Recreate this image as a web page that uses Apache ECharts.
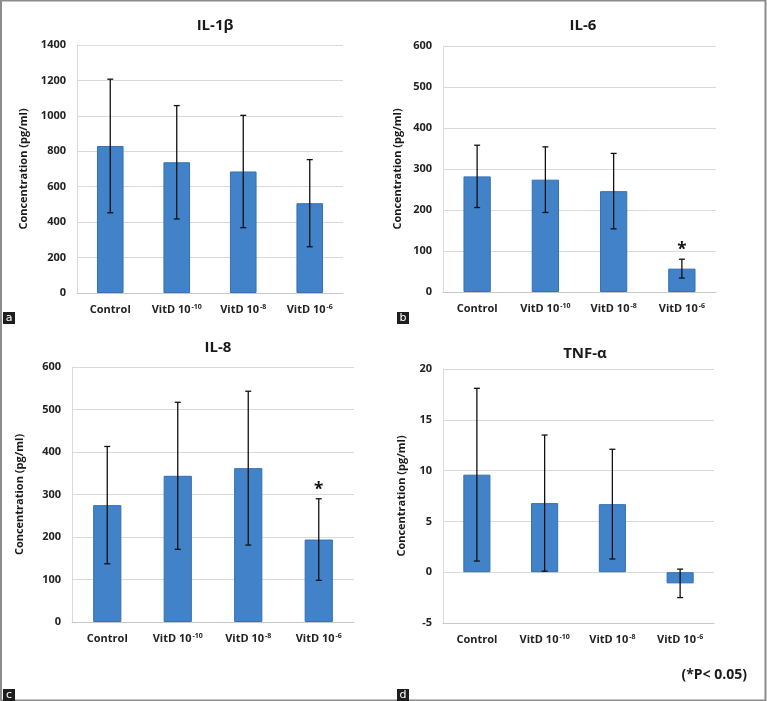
<!DOCTYPE html>
<html>
<head>
<meta charset="utf-8">
<script src="https://cdn.jsdelivr.net/npm/echarts@6/dist/echarts.min.js"></script>
<style>
html,body{margin:0;padding:0;background:#fff;}
#c{width:767px;height:701px;}
</style>
</head>
<body>
<div id="c"></div>
<script>
// ---- data ----
const categories = ['Control', 'VitD 10⁻¹⁰', 'VitD 10⁻⁸', 'VitD 10⁻⁶'];
const titles = ['IL-1β', 'IL-6', 'IL-8', 'TNF-α'];
const panelLetters = ['a', 'b', 'c', 'd'];
const yAxisName = 'Concentration (pg/ml)';
const noteText = '(*P< 0.05)';

const il1bMean = [830, 738, 686, 507];
const il1bErr = [377, 320, 317, 246];
const il1bSig = [0, 0, 0, 0];

const il6Mean = [282, 274, 246, 57];
const il6Err = [76, 80, 92, 23];
const il6Sig = [0, 0, 0, 1];

const il8Mean = [275, 344, 362, 194];
const il8Err = [138, 173, 181, 96];
const il8Sig = [0, 0, 0, 1];

const tnfMean = [9.6, 6.8, 6.7, -1.1];
const tnfErr = [8.5, 6.7, 5.4, 1.4];
const tnfSig = [0, 0, 0, 0];

const yMin = [0, 0, 0, -5];
const yMax = [1400, 600, 600, 20];
const yInterval = [200, 100, 100, 5];

// ---- layout ----
const FONT = 'Open Sans';
const grids = [
  {left: 77, top: 45, width: 266, height: 248},
  {left: 443, top: 46, width: 273, height: 246},
  {left: 72, top: 367, width: 282, height: 255},
  {left: 443, top: 369, width: 271, height: 254}
];
const nameGaps = [48, 40, 47, 36];
const titlePos = [[210, 13], [578, 13], [213, 335], [580, 341]];
const letterPos = [[3, 312], [397, 312], [3, 689], [397, 689]];

const means = [il1bMean, il6Mean, il8Mean, tnfMean];
const errs = [il1bErr, il6Err, il8Err, tnfErr];
const sigs = [il1bSig, il6Sig, il8Sig, tnfSig];

const supMap = {'⁻':'-','⁰':'0','¹':'1','²':'2','³':'3','⁴':'4','⁵':'5','⁶':'6','⁷':'7','⁸':'8','⁹':'9'};
function catFormatter(v) {
  const m = v.match(/^(.*?)([⁻⁰¹²³⁴⁵⁶⁷⁸⁹]+)$/);
  if (!m) return '{b|' + v + '}';
  const exp = m[2].split('').map(ch => supMap[ch]).join('');
  return '{b|' + m[1] + '}{s|' + exp + '}';
}

const option = {
  animation: false,
  backgroundColor: '#fff',
  textStyle: {fontFamily: FONT},
  title: titles.map((t, i) => ({
    text: t, left: titlePos[i][0], top: titlePos[i][1], textAlign: 'center',
    textStyle: {fontFamily: FONT, fontSize: 15, fontWeight: 'bold', color: '#1a1a1a'}
  })),
  grid: grids.map(g => Object.assign({containLabel: false}, g)),
  xAxis: grids.map((g, i) => ({
    type: 'category', gridIndex: i, data: categories,
    axisLine: {show: true, onZero: false, lineStyle: {color: '#c8c8c8', width: 1}},
    axisTick: {show: false},
    axisLabel: {
      interval: 0, margin: 10, formatter: catFormatter,
      rich: {
        b: {fontFamily: FONT, fontSize: 11, fontWeight: 'bold', color: '#222', lineHeight: 14},
        s: {fontFamily: FONT, fontSize: 7, fontWeight: 'bold', color: '#222', verticalAlign: 'top', lineHeight: 9, padding: [0, 0, 5, 1]}
      }
    },
    splitLine: {show: false}
  })),
  yAxis: grids.map((g, i) => ({
    type: 'value', gridIndex: i, min: yMin[i], max: yMax[i], interval: yInterval[i],
    name: yAxisName, nameLocation: 'middle', nameGap: nameGaps[i], nameRotate: 90,
    nameTextStyle: {fontFamily: FONT, fontSize: 11, fontWeight: 'bold', color: '#1a1a1a'},
    axisLine: {show: true, lineStyle: {color: '#d9d9d9'}},
    axisTick: {show: false},
    axisLabel: {margin: 11, fontFamily: FONT, fontSize: 11, fontWeight: 'bold', color: '#222',
      formatter: v => String(v)},
    splitLine: {show: true, lineStyle: {color: '#d9d9d9', width: 1}}
  })),
  series: []
};

for (let i = 0; i < 4; i++) {
  option.series.push({
    type: 'bar', xAxisIndex: i, yAxisIndex: i, data: means[i], barWidth: '40%',
    itemStyle: {color: '#4282c8', borderColor: '#3570b2', borderWidth: 1}
  });
  option.series.push({
    type: 'custom', xAxisIndex: i, yAxisIndex: i, z: 5,
    data: means[i].map((m, k) => [k, m, errs[i][k], sigs[i][k]]),
    renderItem: function (params, api) {
      const x = api.value(0), m = api.value(1), e = api.value(2), s = api.value(3);
      const top = api.coord([x, m + e]);
      const bot = api.coord([x, m - e]);
      const cw = 3;
      const st = {stroke: '#111', lineWidth: 1.3};
      const children = [
        {type: 'line', shape: {x1: top[0], y1: top[1], x2: bot[0], y2: bot[1]}, style: st},
        {type: 'line', shape: {x1: top[0] - cw, y1: top[1], x2: top[0] + cw, y2: top[1]}, style: st},
        {type: 'line', shape: {x1: bot[0] - cw, y1: bot[1], x2: bot[0] + cw, y2: bot[1]}, style: st}
      ];
      if (s) {
        children.push({type: 'text', style: {
          text: '*', x: top[0], y: top[1] - 9, align: 'center', verticalAlign: 'middle',
          font: 'bold 17px "Open Sans"', fill: '#111'
        }});
      }
      return {type: 'group', children: children};
    }
  });
}

const graphics = [
  {type: 'rect', shape: {x: 1, y: 0.5, width: 764.5, height: 700}, style: {fill: 'none', stroke: '#8c8c8c', lineWidth: 2}, silent: true},
  {type: 'text', style: {text: noteText, x: 747, y: 675, align: 'right', verticalAlign: 'middle', font: 'bold 14px "Open Sans"', fill: '#1a1a1a'}}
];
letterPos.forEach((p, i) => {
  graphics.push({type: 'rect', shape: {x: p[0], y: p[1], width: 12, height: 12}, style: {fill: '#1e1e1e'}});
  graphics.push({type: 'text', style: {text: panelLetters[i], x: p[0] + 6, y: p[1] + 6, align: 'center', verticalAlign: 'middle', font: '11px "DejaVu Sans"', fill: '#fff'}});
});
option.graphic = graphics;

const chart = echarts.init(document.getElementById('c'), null, {renderer: 'canvas'});
chart.setOption(option);
</script>
</body>
</html>
